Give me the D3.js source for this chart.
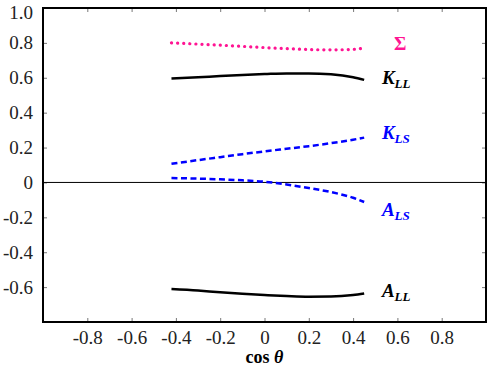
<!DOCTYPE html>
<html>
<head>
<script src="https://d3js.org/d3.v7.min.js"></script>
<style>
  body { margin: 0; background: #fff; }
</style>
</head>
<body>
<div id="chart"></div>
<script>
// cos(theta) sample points
const cosTheta = [-0.42, -0.3, -0.2, -0.1, 0, 0.1, 0.2, 0.3, 0.4, 0.45];
const sigma = [0.800, 0.793, 0.787, 0.780, 0.773, 0.767, 0.762, 0.760, 0.763, 0.770];
const kLL   = [0.596, 0.603, 0.610, 0.616, 0.621, 0.625, 0.625, 0.620, 0.603, 0.588];
const kLS   = [0.107, 0.128, 0.145, 0.162, 0.178, 0.193, 0.208, 0.225, 0.245, 0.257];
const aLS   = [0.025, 0.022, 0.018, 0.012, 0.004, -0.012, -0.032, -0.055, -0.088, -0.112];
const aLL   = [-0.611, -0.620, -0.630, -0.638, -0.645, -0.651, -0.655, -0.654, -0.645, -0.636];

const xTicks = [-0.8, -0.6, -0.4, -0.2, 0, 0.2, 0.4, 0.6, 0.8];
const yTicks = [1.0, 0.8, 0.6, 0.4, 0.2, 0, -0.2, -0.4, -0.6];

const W = 490, H = 366;
const margin = { top: 8, right: 4, bottom: 44, left: 43 };
const w = W - margin.left - margin.right;
const h = H - margin.top - margin.bottom;
const serif = "'Liberation Serif', 'Times New Roman', serif";

const svg = d3.select("#chart").append("svg")
    .attr("width", W).attr("height", H);
const g = svg.append("g")
    .attr("transform", `translate(${margin.left},${margin.top})`);

const x = d3.scaleLinear().domain([-1, 1]).range([0, w]);
const y = d3.scaleLinear().domain([-0.8, 1.0]).range([h, 0]);

// plain hyphen for negatives, bare "0" at zero
const fmt = d => d === 0 ? "0" : d.toFixed(1);

// axes, ticks pointing inward
g.append("g").attr("transform", `translate(0,${h})`)
    .call(d3.axisBottom(x).tickValues(xTicks).tickSize(-4).tickPadding(9).tickFormat(fmt))
    .call(a => a.select(".domain").remove());
g.append("g").attr("transform", `translate(0,0)`)
    .call(d3.axisTop(x).tickValues(xTicks).tickSize(-4).tickFormat(""))
    .call(a => a.select(".domain").remove());
g.append("g").attr("class", "yaxis")
    .call(d3.axisLeft(y).tickValues(yTicks).tickSize(-4).tickPadding(10).tickFormat(fmt))
    .call(a => a.select(".domain").remove());
g.append("g").attr("transform", `translate(${w},0)`)
    .call(d3.axisRight(y).tickValues(yTicks).tickSize(-4).tickFormat(""))
    .call(a => a.select(".domain").remove());

g.selectAll(".tick line").attr("stroke", "#555").attr("stroke-width", 0.8);
g.selectAll(".tick text")
    .style("font-family", serif)
    .style("font-size", "19px")
    .attr("fill", "#222");
// keep the top label inside the picture
g.selectAll(".yaxis .tick text").filter(d => d === 1.0).attr("dy", "0.55em");

// zero line
g.append("line")
    .attr("x1", 0).attr("x2", w)
    .attr("y1", y(0)).attr("y2", y(0))
    .attr("stroke", "#000").attr("stroke-width", 1);

// frame
g.append("rect")
    .attr("width", w).attr("height", h)
    .attr("fill", "none").attr("stroke", "#000").attr("stroke-width", 2);

const line = d3.line()
    .x((d, i) => x(cosTheta[i]))
    .y(d => y(d))
    .curve(d3.curveMonotoneX);

const series = [
  { vals: sigma, color: "#ff1493", dash: "0.1 6", cap: "round", width: 3.2 },
  { vals: kLL, color: "#000", dash: null, cap: "butt", width: 2.5 },
  { vals: kLS, color: "#0000ff", dash: "6 3.5", cap: "butt", width: 2.5 },
  { vals: aLS, color: "#0000ff", dash: "6 3.5", cap: "butt", width: 2.5 },
  { vals: aLL, color: "#000", dash: null, cap: "butt", width: 2.5 }
];

g.selectAll(".curve").data(series).join("path")
    .attr("class", "curve")
    .attr("d", s => line(s.vals))
    .attr("fill", "none")
    .attr("stroke", s => s.color)
    .attr("stroke-width", s => s.width)
    .attr("stroke-linecap", s => s.cap)
    .attr("stroke-dasharray", s => s.dash);

// curve labels
const labels = [
  { main: "Σ", sub: "", val: 0.795, at: 0.585, color: "#ff1493", italic: false },
  { main: "K", sub: "LL", val: 0.60, at: 0.53, color: "#000", italic: true },
  { main: "K", sub: "LS", val: 0.285, at: 0.53, color: "#0000ff", italic: true },
  { main: "A", sub: "LS", val: -0.155, at: 0.53, color: "#0000ff", italic: true },
  { main: "A", sub: "LL", val: -0.62, at: 0.53, color: "#000", italic: true }
];

labels.forEach(l => {
  const t = g.append("text")
      .attr("x", x(l.at))
      .attr("y", y(l.val))
      .attr("dy", "0.35em")
      .attr("fill", l.color)
      .style("font-family", serif)
      .style("font-weight", "bold")
      .style("font-size", "19px")
      .style("font-style", l.italic ? "italic" : "normal");
  t.append("tspan").text(l.main);
  if (l.sub) {
    t.append("tspan").attr("dy", 4).style("font-size", "13px").text(l.sub);
  }
});

// x axis title
svg.append("text")
    .attr("x", margin.left + x(0))
    .attr("y", 363)
    .attr("text-anchor", "middle")
    .style("font-family", serif)
    .style("font-weight", "bold")
    .style("font-size", "18px")
    .call(t => {
      t.append("tspan").text("cos ");
      t.append("tspan").style("font-style", "italic").text("θ");
    });
</script>
</body>
</html>
